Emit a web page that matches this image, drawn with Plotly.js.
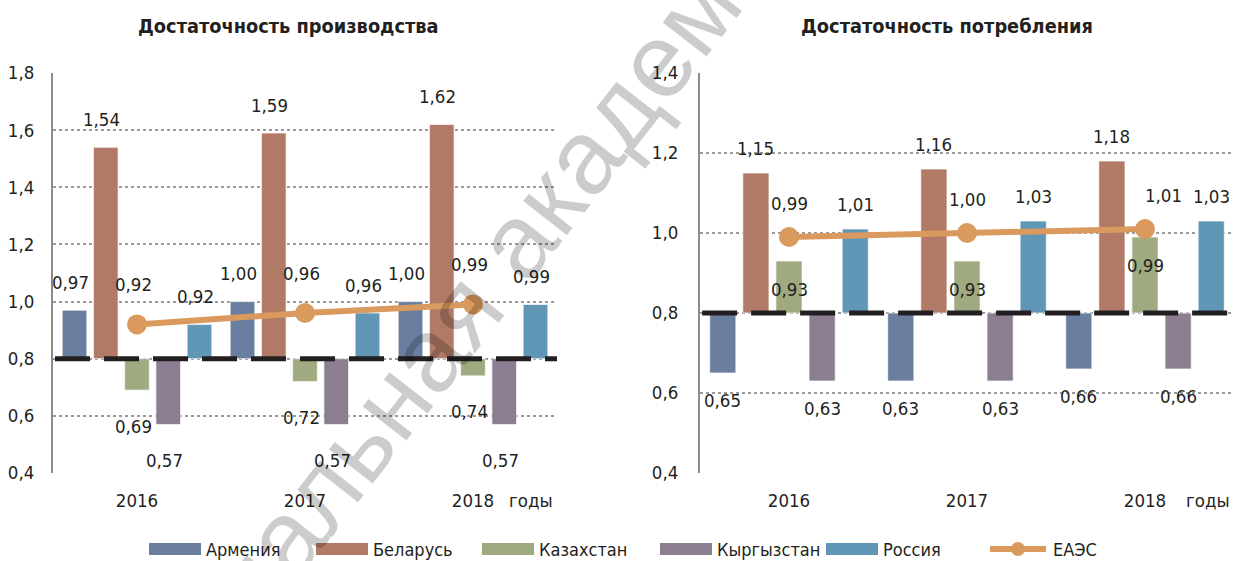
<!DOCTYPE html>
<html>
<head>
<meta charset="utf-8">
<script src="https://cdn.plot.ly/plotly-3.0.1.min.js"></script>
<style>
  html, body { margin: 0; padding: 0; background: #fff; }
  #chart { width: 1234px; height: 561px; }
</style>
</head>
<body>
<div id="chart"></div>
<script>
// ---------------- DATA ----------------
const years = ['2016', '2017', '2018'];
const countries = ['Армения', 'Беларусь', 'Казахстан', 'Кыргызстан', 'Россия'];
const unionName = 'ЕАЭС';
const threshold = 0.8;

// Достаточность производства
const prodArmenia    = [0.97, 1.00, 1.00];
const prodBelarus    = [1.54, 1.59, 1.62];
const prodKazakhstan = [0.69, 0.72, 0.74];
const prodKyrgyzstan = [0.57, 0.57, 0.57];
const prodRussia     = [0.92, 0.96, 0.99];
const prodEAEU       = [0.92, 0.96, 0.99];

// Достаточность потребления
const consArmenia    = [0.65, 0.63, 0.66];
const consBelarus    = [1.15, 1.16, 1.18];
const consKazakhstan = [0.93, 0.93, 0.99];
const consKyrgyzstan = [0.63, 0.63, 0.66];
const consRussia     = [1.01, 1.03, 1.03];
const consEAEU       = [0.99, 1.00, 1.01];

const titleProd = 'Достаточность производства';
const titleCons = 'Достаточность потребления';
const unitLabel = 'годы';
const watermark = 'Национальная академия';

// ---------------- FONT PICK ----------------
function fontAvailable(name) {
  const cv = document.createElement('canvas').getContext('2d');
  const s = 'Достаточность 0,97 mmmwwwiii';
  cv.font = '40px monospace'; const a = cv.measureText(s).width;
  cv.font = '40px "' + name + '", monospace'; const b = cv.measureText(s).width;
  cv.font = '40px serif'; const c = cv.measureText(s).width;
  cv.font = '40px "' + name + '", serif'; const d = cv.measureText(s).width;
  return a !== b || c !== d;
}
const fontCandidates = [
  ['Liberation Sans Narrow', 1.0], ['Nimbus Sans Narrow', 1.0], ['Arial Narrow', 1.0],
  ['DejaVu Sans Condensed', 0.88], ['Liberation Sans', 0.85]
];
let FONT = '"DejaVu Sans Condensed", sans-serif', FS = 0.88;
for (const [n, k] of fontCandidates) { if (fontAvailable(n)) { FONT = '"' + n + '", sans-serif'; FS = k; break; } }
const fs = s => Math.round(s * FS * 10) / 10;

// ---------------- STYLE ----------------
const W = 1234, H = 561;
const colors = ['#6a7f9f', '#b07a66', '#a0aa80', '#8a7e90', '#6096b6'];
const unionColor = '#da9a5e';
const textColor = '#231f20';
const BARGAP = 0.07, BARGROUPGAP = 0.21;
const px2x = p => p / W;
const px2y = p => 1 - p / H;
const fmt = v => v.toFixed(2).replace('.', ',');

const charts = [
  { xa: 'x', ya: 'y', series: [prodArmenia, prodBelarus, prodKazakhstan, prodKyrgyzstan, prodRussia], union: prodEAEU,
    title: titleProd, titleX: 288, posShift: 28, negShift: -36, lineShift: 40, xshift: -4, inside: [] },
  { xa: 'x2', ya: 'y2', series: [consArmenia, consBelarus, consKazakhstan, consKyrgyzstan, consRussia], union: consEAEU,
    title: titleCons, titleX: 947, posShift: 25, negShift: -27, lineShift: 34, xshift: 0, inside: [2] }
];

const xpos = years.map((_, i) => i);
const traces = [];
const annotations = [];
const shapes = [];
const slotW = (1 - BARGAP) / countries.length;

charts.forEach((c, ci) => {
  c.series.forEach((vals, si) => {
    traces.push({
      type: 'bar', name: countries[si], x: xpos,
      y: vals.map(v => v - threshold), base: threshold,
      xaxis: c.xa, yaxis: c.ya,
      marker: { color: colors[si], line: { color: 'rgba(255,255,255,0.7)', width: 1 } },
      showlegend: false, hoverinfo: 'skip'
    });
    vals.forEach((v, j) => {
      let shift;
      if (c.inside.includes(si)) shift = -c.posShift - 3;
      else shift = v >= threshold ? c.posShift : c.negShift;
      annotations.push({
        xref: c.xa, yref: c.ya, x: j + (si - (countries.length - 1) / 2) * slotW, y: v,
        text: fmt(v), showarrow: false, yshift: shift, xshift: c.xshift,
        xanchor: 'center', yanchor: 'middle', font: { family: FONT, size: fs(21), color: textColor }
      });
    });
  });
  traces.push({
    type: 'scatter', mode: 'lines+markers', name: unionName, x: xpos, y: c.union,
    xaxis: c.xa, yaxis: c.ya,
    line: { color: unionColor, width: 6 }, marker: { color: unionColor, size: 20 },
    showlegend: false, hoverinfo: 'skip'
  });
  c.union.forEach((v, j) => {
    // last label of the consumption chart sits a little to the right, as in the original
    const xs = (ci === 1 && j === c.union.length - 1) ? 18 : c.xshift;
    annotations.push({
      xref: c.xa, yref: c.ya, x: j, y: v, text: fmt(v), showarrow: false,
      yshift: c.lineShift, xshift: xs, font: { family: FONT, size: fs(21), color: textColor }
    });
  });
  shapes.push({
    type: 'line', xref: c.xa + ' domain', yref: c.ya, x0: 0.004, x1: 1, y0: threshold, y1: threshold,
    line: { color: textColor, width: 5, dash: '35px,14px' }, layer: 'above'
  });
  annotations.push({
    xref: 'paper', yref: 'paper', x: px2x(c.titleX), y: px2y(27), text: '<b>' + c.title + '</b>',
    showarrow: false, xanchor: 'center', yanchor: 'middle', font: { family: FONT, size: fs(22.5), color: textColor }
  });
  annotations.push({
    xref: c.xa + ' domain', yref: 'paper', x: 1, y: px2y(500), text: unitLabel, showarrow: false,
    xanchor: 'right', yanchor: 'middle', xshift: -2, font: { family: FONT, size: fs(21), color: textColor }
  });
});

// custom legend
const legX = [149, 316, 482, 660, 826, 990];
countries.forEach((name, i) => {
  shapes.push({ type: 'rect', xref: 'paper', yref: 'paper', x0: px2x(legX[i]), x1: px2x(legX[i] + 52),
    y0: px2y(555), y1: px2y(543), fillcolor: colors[i], line: { width: 0 } });
  annotations.push({ xref: 'paper', yref: 'paper', x: px2x(legX[i] + 55), y: px2y(549), text: name,
    showarrow: false, xanchor: 'left', yanchor: 'middle', font: { family: FONT, size: fs(20.5), color: textColor } });
});
shapes.push({ type: 'line', xref: 'paper', yref: 'paper', x0: px2x(legX[5]), x1: px2x(legX[5] + 56),
  y0: px2y(549), y1: px2y(549), line: { color: unionColor, width: 6 } });
shapes.push({ type: 'circle', xref: 'paper', yref: 'paper', x0: px2x(legX[5] + 21), x1: px2x(legX[5] + 35),
  y0: px2y(556), y1: px2y(542), fillcolor: unionColor, line: { width: 0 } });
annotations.push({ xref: 'paper', yref: 'paper', x: px2x(legX[5] + 61), y: px2y(549), text: unionName,
  showarrow: false, xanchor: 'left', yanchor: 'middle', font: { family: FONT, size: fs(20.5), color: textColor } });

// watermark
annotations.push({ xref: 'paper', yref: 'paper', x: px2x(413), y: px2y(372), text: watermark,
  showarrow: false, textangle: -52, xanchor: 'center', yanchor: 'middle',
  font: { family: '"Liberation Sans", Arial, sans-serif', size: 105, color: 'rgba(0,0,0,0.2)' } });

const yAxisBase = {
  dtick: 0.2, tickformat: '.1f', showgrid: true, gridcolor: '#9a9a9a', griddash: 'dot', gridwidth: 2,
  showline: true, linecolor: '#8c8c8c', linewidth: 2, zeroline: false, ticks: '',
  ticklabelstandoff: 13, tickfont: { family: FONT, size: fs(21), color: textColor },
  domain: [px2y(473), px2y(73)], fixedrange: true
};
const xAxisBase = {
  range: [-0.5, 2.5], tickvals: xpos, ticktext: years, showgrid: false, zeroline: false, showline: false,
  ticks: '', ticklabelstandoff: 14, tickfont: { family: FONT, size: fs(21), color: textColor }, fixedrange: true
};

const layout = {
  width: W, height: H, margin: { l: 0, r: 0, t: 0, b: 0 },
  paper_bgcolor: '#fff', plot_bgcolor: '#fff',
  separators: ', ',
  barmode: 'group', bargap: BARGAP, bargroupgap: BARGROUPGAP,
  showlegend: false,
  xaxis: Object.assign({}, xAxisBase, { domain: [px2x(53), px2x(557)], anchor: 'y' }),
  yaxis: Object.assign({}, yAxisBase, { range: [0.4, 1.8], anchor: 'x' }),
  xaxis2: Object.assign({}, xAxisBase, { domain: [px2x(700), 1], anchor: 'y2' }),
  yaxis2: Object.assign({}, yAxisBase, { range: [0.4, 1.4], anchor: 'x2', ticklabelstandoff: 16 }),
  shapes: shapes, annotations: annotations
};

Plotly.newPlot('chart', traces, layout, { staticPlot: true, displayModeBar: false });
</script>
</body>
</html>
